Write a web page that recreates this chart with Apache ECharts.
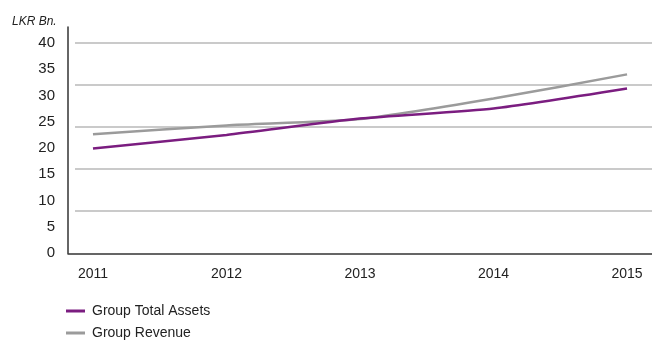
<!DOCTYPE html>
<html>
<head>
<meta charset="utf-8">
<script src="https://cdn.jsdelivr.net/npm/echarts@6/dist/echarts.min.js"></script>
<style>
html,body{margin:0;padding:0;background:#fff;}
#chart{width:652px;height:341px;}
</style>
</head>
<body>
<div id="chart"></div>
<script>
const years = [2011, 2012, 2013, 2014, 2015];
const totalAssets = [19.9, 22.5, 25.6, 27.5, 31.3];
const revenue = [22.6, 24.3, 25.5, 29.4, 34.0];
const seriesNames = ['Group Total Assets', 'Group Revenue'];
const unitLabel = 'LKR Bn.';

const FONT = '"Liberation Sans", Arial, sans-serif';
const PURPLE = '#7b1d80';
const GRAY = '#9b9b9b';

const chart = echarts.init(document.getElementById('chart'), null, {renderer: 'canvas'});
const pairs = arr => years.map((y, i) => [y, arr[i]]);

chart.setOption({
  animation: false,
  backgroundColor: '#fff',
  title: {
    text: unitLabel, left: 7, top: 11,
    textStyle: {fontFamily: FONT, fontSize: 12, fontStyle: 'italic', fontWeight: 'normal', color: '#222'}
  },
  legend: {
    orient: 'vertical', left: 66, top: 304, itemGap: 8, padding: 0, height: 60,
    itemWidth: 19, itemHeight: 3, icon: 'rect',
    textStyle: {fontFamily: FONT, fontSize: 14, color: '#222', padding: [0,0,0,2]},
    data: seriesNames
  },
  grid: [
    {left: 68, right: 0, top: 27, bottom: 87.7},
    {left: 75, right: 0, top: 27, bottom: 87.7}
  ],
  xAxis: [
    {
      gridIndex: 0, type: 'value', min: 2010.813, max: 2015.187,
      axisLine: {show: true, lineStyle: {color: '#333', width: 1.5}},
      axisTick: {show: false},
      splitLine: {show: false},
      axisLabel: {customValues: years, margin: 14, fontFamily: FONT, fontSize: 14, color: '#222',
        formatter: v => String(v), showMinLabel: true, showMaxLabel: true}
    },
    {gridIndex: 1, type: 'value', min: 0, max: 1, show: false}
  ],
  yAxis: [
    {
      gridIndex: 0, type: 'value', min: 0, max: 43, interval: 5,
      axisLine: {show: true, lineStyle: {color: '#333', width: 1.5}},
      axisTick: {show: false},
      splitLine: {show: false},
      axisLabel: {margin: 13, fontFamily: FONT, fontSize: 15, color: '#222',
        formatter: v => (v % 5 === 0 && v <= 40) ? String(v) : ''}
    },
    {
      gridIndex: 1, type: 'value', min: 0, max: 43, interval: 8,
      axisLine: {show: false}, axisTick: {show: false}, axisLabel: {show: false},
      splitLine: {show: true, showMinLine: false, showMaxLine: false, lineStyle: {color: '#b9b9b9', width: 1.5}}
    }
  ],
  series: [
    {
      name: seriesNames[1], type: 'line', xAxisIndex: 0, yAxisIndex: 0,
      data: pairs(revenue), smooth: 0.2, showSymbol: false, symbol: 'none',
      lineStyle: {color: GRAY, width: 2.5}, itemStyle: {color: GRAY}, z: 3
    },
    {
      name: seriesNames[0], type: 'line', xAxisIndex: 0, yAxisIndex: 0,
      data: pairs(totalAssets), smooth: 0.2, showSymbol: false, symbol: 'none',
      lineStyle: {color: PURPLE, width: 2.5}, itemStyle: {color: PURPLE}, z: 4
    }
  ]
});
</script>
</body>
</html>
